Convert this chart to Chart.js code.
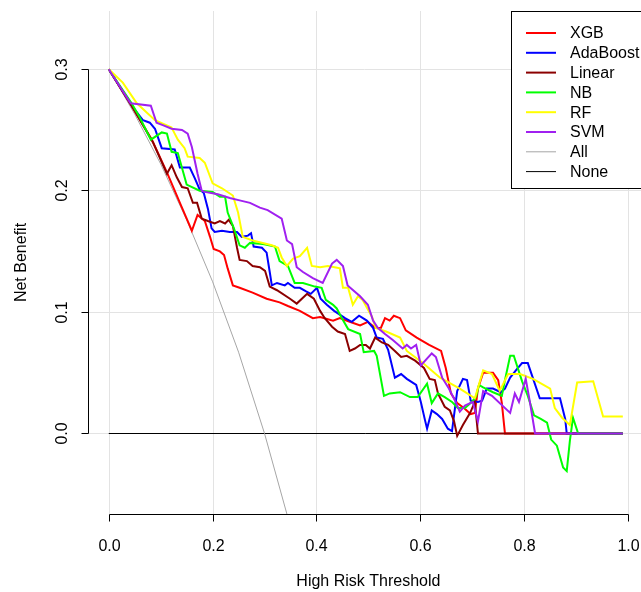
<!DOCTYPE html>
<html>
<head>
<meta charset="utf-8">
<script src="https://cdn.jsdelivr.net/npm/chart.js@4.4.1/dist/chart.umd.min.js"></script>
<style>
  html, body { margin: 0; padding: 0; background: #ffffff; }
  #wrap { width: 641px; height: 592px; }
</style>
</head>
<body>
<div id="wrap"><canvas id="dca" width="641" height="592"></canvas></div>
<script>
  // decision curves, [threshold, net benefit]
  const xgb = [[0,0.30],[0.044,0.270],[0.083,0.242],[0.112,0.215],[0.137,0.190],[0.160,0.167],[0.171,0.180],[0.185,0.175],[0.195,0.162],[0.202,0.152],[0.214,0.150],[0.222,0.147],[0.229,0.136],[0.239,0.122],[0.252,0.120],[0.277,0.116],[0.304,0.111],[0.329,0.108],[0.345,0.105],[0.368,0.101],[0.393,0.095],[0.407,0.096],[0.432,0.093],[0.445,0.095],[0.464,0.092],[0.484,0.089],[0.499,0.092],[0.513,0.087],[0.524,0.087],[0.532,0.095],[0.541,0.093],[0.549,0.097],[0.561,0.095],[0.572,0.085],[0.593,0.079],[0.617,0.073],[0.640,0.068],[0.649,0.054],[0.659,0.033],[0.671,0.025],[0.684,0.021],[0.697,0.016],[0.705,0.017],[0.711,0.037],[0.721,0.050],[0.740,0.050],[0.750,0.044],[0.757,0.025],[0.763,0],[0.99,0]];
  const adaBoost = [[0,0.30],[0.046,0.269],[0.066,0.258],[0.079,0.256],[0.089,0.251],[0.102,0.235],[0.127,0.234],[0.137,0.219],[0.156,0.219],[0.166,0.210],[0.175,0.201],[0.183,0.198],[0.191,0.185],[0.198,0.169],[0.204,0.166],[0.218,0.167],[0.233,0.166],[0.247,0.166],[0.256,0.162],[0.268,0.163],[0.274,0.165],[0.279,0.154],[0.295,0.153],[0.304,0.149],[0.310,0.133],[0.314,0.122],[0.324,0.124],[0.339,0.122],[0.345,0.124],[0.358,0.120],[0.368,0.120],[0.380,0.117],[0.389,0.115],[0.401,0.120],[0.408,0.111],[0.420,0.106],[0.434,0.101],[0.455,0.095],[0.468,0.092],[0.482,0.097],[0.497,0.093],[0.509,0.087],[0.516,0.079],[0.528,0.078],[0.538,0.069],[0.551,0.046],[0.563,0.049],[0.574,0.045],[0.592,0.040],[0.601,0.026],[0.609,0.011],[0.613,0.004],[0.622,0.019],[0.632,0.016],[0.642,0.012],[0.653,0.004],[0.661,0.002],[0.671,0.035],[0.682,0.045],[0.690,0.044],[0.697,0.027],[0.711,0.026],[0.719,0.027],[0.728,0.037],[0.740,0.037],[0.755,0.034],[0.763,0.037],[0.773,0.046],[0.786,0.053],[0.796,0.058],[0.807,0.058],[0.830,0.029],[0.869,0.029],[0.879,0.012],[0.882,0],[0.99,0]];
  const linear = [[0,0.30],[0.044,0.270],[0.085,0.240],[0.112,0.214],[0.121,0.221],[0.131,0.211],[0.141,0.203],[0.152,0.202],[0.162,0.190],[0.170,0.190],[0.179,0.177],[0.191,0.175],[0.204,0.173],[0.214,0.175],[0.224,0.173],[0.231,0.176],[0.239,0.171],[0.247,0.153],[0.252,0.143],[0.266,0.142],[0.277,0.138],[0.291,0.137],[0.301,0.134],[0.310,0.121],[0.324,0.118],[0.349,0.111],[0.362,0.107],[0.382,0.115],[0.395,0.111],[0.407,0.101],[0.416,0.095],[0.430,0.088],[0.441,0.084],[0.455,0.082],[0.464,0.068],[0.474,0.070],[0.484,0.073],[0.495,0.073],[0.503,0.070],[0.513,0.079],[0.526,0.075],[0.538,0.073],[0.551,0.068],[0.563,0.063],[0.574,0.064],[0.590,0.060],[0.607,0.054],[0.618,0.045],[0.628,0.044],[0.634,0.033],[0.647,0.022],[0.657,0.019],[0.665,0.010],[0.671,-0.002],[0.682,0.007],[0.696,0.017],[0.705,0.026],[0.711,0],[0.99,0]];
  const nb = [[0,0.30],[0.044,0.272],[0.060,0.260],[0.081,0.242],[0.102,0.248],[0.112,0.247],[0.121,0.232],[0.133,0.231],[0.150,0.205],[0.175,0.200],[0.200,0.199],[0.214,0.195],[0.224,0.195],[0.229,0.182],[0.241,0.169],[0.252,0.155],[0.262,0.153],[0.272,0.157],[0.297,0.156],[0.320,0.154],[0.329,0.142],[0.345,0.138],[0.358,0.124],[0.374,0.124],[0.397,0.121],[0.410,0.120],[0.418,0.110],[0.432,0.106],[0.439,0.103],[0.449,0.095],[0.461,0.086],[0.484,0.082],[0.491,0.067],[0.511,0.068],[0.516,0.064],[0.530,0.031],[0.541,0.033],[0.561,0.034],[0.580,0.030],[0.595,0.030],[0.613,0.041],[0.622,0.025],[0.634,0.033],[0.647,0.030],[0.661,0.026],[0.672,0.021],[0.686,0.021],[0.699,0.026],[0.707,0.030],[0.713,0.040],[0.721,0.038],[0.740,0.034],[0.757,0.031],[0.763,0.044],[0.773,0.064],[0.780,0.064],[0.796,0.043],[0.807,0.031],[0.819,0.015],[0.832,0.012],[0.844,0.009],[0.852,-0.005],[0.863,-0.010],[0.875,-0.028],[0.882,-0.031],[0.888,-0.006],[0.894,0.013],[0.904,0],[0.99,0]];
  const rf = [[0,0.30],[0.027,0.289],[0.054,0.272],[0.089,0.258],[0.121,0.252],[0.127,0.247],[0.133,0.242],[0.146,0.235],[0.152,0.228],[0.175,0.227],[0.185,0.223],[0.200,0.206],[0.218,0.202],[0.239,0.196],[0.249,0.182],[0.258,0.162],[0.277,0.159],[0.314,0.155],[0.326,0.153],[0.333,0.145],[0.343,0.138],[0.355,0.144],[0.368,0.146],[0.382,0.153],[0.391,0.138],[0.407,0.137],[0.422,0.138],[0.435,0.137],[0.445,0.136],[0.451,0.120],[0.461,0.120],[0.470,0.106],[0.480,0.113],[0.489,0.110],[0.507,0.096],[0.514,0.087],[0.534,0.084],[0.561,0.079],[0.574,0.068],[0.605,0.058],[0.638,0.046],[0.676,0.037],[0.705,0.029],[0.721,0.052],[0.738,0.049],[0.753,0.035],[0.769,0.049],[0.792,0.049],[0.817,0.045],[0.850,0.037],[0.859,0.021],[0.873,0.013],[0.888,0.007],[0.902,0.042],[0.933,0.043],[0.952,0.014],[0.99,0.014]];
  const svm = [[0,0.30],[0.042,0.272],[0.081,0.270],[0.092,0.256],[0.104,0.254],[0.121,0.251],[0.141,0.250],[0.152,0.247],[0.160,0.236],[0.171,0.214],[0.179,0.200],[0.185,0.199],[0.210,0.197],[0.233,0.194],[0.252,0.192],[0.272,0.190],[0.291,0.186],[0.306,0.184],[0.333,0.177],[0.343,0.159],[0.353,0.156],[0.362,0.137],[0.374,0.133],[0.393,0.128],[0.412,0.124],[0.430,0.140],[0.439,0.143],[0.451,0.138],[0.460,0.122],[0.484,0.113],[0.499,0.106],[0.509,0.093],[0.518,0.087],[0.532,0.082],[0.547,0.077],[0.566,0.070],[0.574,0.073],[0.582,0.070],[0.592,0.073],[0.601,0.056],[0.622,0.066],[0.630,0.063],[0.642,0.046],[0.655,0.037],[0.667,0.027],[0.676,0.018],[0.686,0.023],[0.701,0.026],[0.711,0.010],[0.721,0.035],[0.738,0.031],[0.773,0.017],[0.782,0.033],[0.790,0.026],[0.803,0.045],[0.811,0.026],[0.821,0],[0.99,0]];
  const treatAll = [[0,0.30],[0.05,0.263],[0.10,0.222],[0.15,0.176],[0.20,0.125],[0.25,0.067],[0.30,0],[0.35,-0.077]];
  const treatNone = [[0,0],[0.99,0]];

  const seriesNames = ["XGB", "AdaBoost", "Linear", "NB", "RF", "SVM", "All", "None"];
  const seriesColors = ["#ff0000", "#0000ff", "#8b0000", "#00ff00", "#ffff00", "#a020f0", "#a6a6a6", "#000000"];
  const seriesData = [xgb, adaBoost, linear, nb, rf, svm, treatAll, treatNone];
  // R draws All/None first, then the models with SVM on top
  const drawOrder = [6, 5, 4, 3, 2, 1, 7, 8];

  const xTicks = [0, 0.2, 0.4, 0.6, 0.8, 1.0];
  const yTicks = [0, 0.1, 0.2, 0.3];
  const xTitle = "High Risk Threshold";
  const yTitle = "Net Benefit";

  const FONT = "16px 'Liberation Sans', Arial, sans-serif";

  function seg(ctx, x1, y1, x2, y2) {
    ctx.beginPath();
    ctx.moveTo(x1, y1);
    ctx.lineTo(x2, y2);
    ctx.stroke();
  }

  const rStyle = {
    id: "rStyle",
    beforeDatasetsDraw(chart) {
      const { ctx, chartArea: a, scales: { x, y } } = chart;
      ctx.save();
      ctx.strokeStyle = "#e3e3e3";
      ctx.lineWidth = 1;
      xTicks.forEach((t) => {
        const px = Math.round(x.getPixelForValue(t)) + 0.5;
        seg(ctx, px, a.top, px, a.bottom);
      });
      yTicks.forEach((v) => {
        const py = Math.floor(y.getPixelForValue(v)) + 0.5;
        seg(ctx, a.left, py, a.right, py);
      });
      ctx.restore();
    },
    afterDraw(chart) {
      const { ctx, chartArea: a, scales: { x, y } } = chart;
      ctx.save();
      ctx.strokeStyle = "#000000";
      ctx.fillStyle = "#000000";
      ctx.lineWidth = 1;
      ctx.font = FONT;

      // x axis
      const ax = Math.round(a.bottom) + 0.5;
      seg(ctx, Math.round(x.getPixelForValue(xTicks[0])) + 0.5, ax, Math.round(x.getPixelForValue(xTicks[xTicks.length - 1])) + 0.5, ax);
      ctx.textAlign = "center";
      ctx.textBaseline = "middle";
      xTicks.forEach((t) => {
        const px = Math.round(x.getPixelForValue(t)) + 0.5;
        seg(ctx, px, ax, px, ax + 7);
        ctx.fillText(t.toFixed(1), px, ax + 32);
      });
      ctx.fillText(xTitle, (a.left + x.getPixelForValue(1.04)) / 2, 582);

      // y axis
      const ay = Math.round(a.left) + 0.5;
      seg(ctx, ay, Math.floor(y.getPixelForValue(yTicks[0])) + 0.5, ay, Math.floor(y.getPixelForValue(yTicks[yTicks.length - 1])) + 0.5);
      yTicks.forEach((v) => {
        const py = Math.floor(y.getPixelForValue(v)) + 0.5;
        seg(ctx, ay, py, ay - 7, py);
        ctx.save();
        ctx.translate(ay - 26, py);
        ctx.rotate(-Math.PI / 2);
        ctx.fillText(v.toFixed(1), 0, 0);
        ctx.restore();
      });
      ctx.save();
      ctx.translate(22, (a.top + a.bottom) / 2);
      ctx.rotate(-Math.PI / 2);
      ctx.fillText(yTitle, 0, 0);
      ctx.restore();

      // legend, top right, white box running off the canvas like the original
      const bx = 511.5, by = 11.5, bw = 150, bh = 177;
      ctx.fillStyle = "#ffffff";
      ctx.fillRect(bx, by, bw, bh);
      ctx.strokeRect(bx, by, bw, bh);
      ctx.textAlign = "left";
      seriesNames.forEach((name, i) => {
        const ry = 33 + i * 19.8;
        ctx.strokeStyle = seriesColors[i];
        ctx.lineWidth = i < 6 ? 2 : 1;
        seg(ctx, 526, ry, 556, ry);
        ctx.fillStyle = "#000000";
        ctx.fillText(name, 570, ry + 1);
      });
      ctx.restore();
    }
  };

  const datasets = seriesNames.map((name, i) => ({
    label: name,
    data: seriesData[i].map(([t, v]) => ({ x: t, y: v })),
    borderColor: seriesColors[i],
    borderWidth: i < 6 ? 2 : 1,
    pointRadius: 0,
    tension: 0,
    fill: false,
    order: drawOrder[i]
  }));

  new Chart(document.getElementById("dca"), {
    type: "line",
    data: { datasets },
    plugins: [rStyle],
    options: {
      responsive: false,
      animation: false,
      events: [],
      layout: { padding: { left: 88, right: 0, top: 11, bottom: 78 } },
      plugins: {
        legend: { display: false },
        tooltip: { enabled: false }
      },
      scales: {
        x: { type: "linear", min: -0.04, max: 1.025, display: false },
        y: { type: "linear", min: -0.0663, max: 0.348, display: false }
      }
    }
  });
</script>
</body>
</html>
